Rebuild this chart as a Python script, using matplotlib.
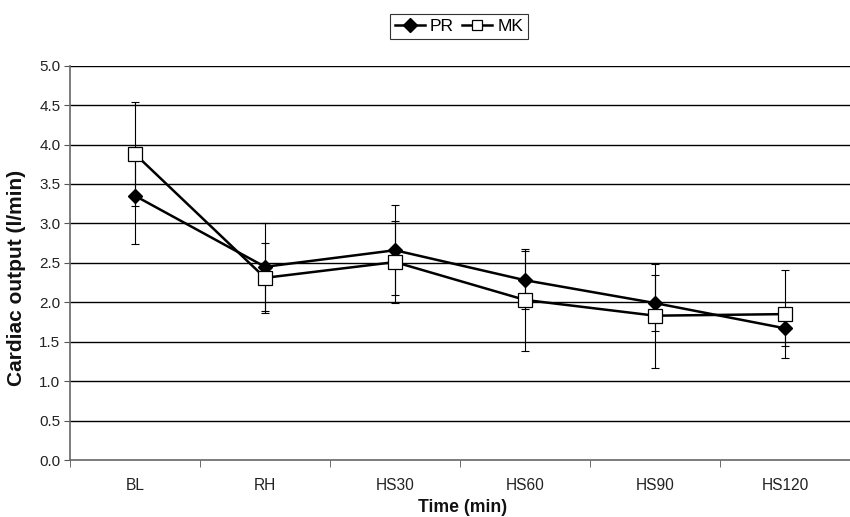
import matplotlib
matplotlib.use("Agg")
import matplotlib.pyplot as plt
import numpy as np

plt.rcParams['font.family'] = ['Liberation Sans', 'DejaVu Sans']

# time points
categories = ['BL', 'RH', 'HS30', 'HS60', 'HS90', 'HS120']

# cardiac output means and SD (l/min)
pr_mean = [3.35, 2.45, 2.66, 2.28, 1.99, 1.67]
pr_sd = [0.61, 0.56, 0.57, 0.37, 0.36, 0.23]
mk_mean = [3.88, 2.31, 2.51, 2.03, 1.83, 1.85]
mk_sd = [0.66, 0.44, 0.52, 0.65, 0.66, 0.56]

yticks = np.arange(0, 5.01, 0.5)

fig = plt.figure(figsize=(8.5, 5.17), dpi=100)
ax = fig.add_axes([70 / 850, 1 - 460 / 517, 780 / 850, (460 - 65.7) / 517])

x = np.arange(len(categories))

for yv in yticks[1:]:
    ax.axhline(yv, color='black', lw=1.0, zorder=1)

ax.errorbar(x, pr_mean, yerr=pr_sd, fmt='none', ecolor='black', elinewidth=0.8,
            capsize=3, capthick=0.8, zorder=2)
ax.errorbar(x, mk_mean, yerr=mk_sd, fmt='none', ecolor='black', elinewidth=0.8,
            capsize=3, capthick=0.8, zorder=2)

ax.plot(x, pr_mean, color='black', lw=1.8, marker='D', markersize=7.5,
        markerfacecolor='black', markeredgecolor='black', label='PR', zorder=3)
ax.plot(x, mk_mean, color='black', lw=1.8, marker='s', markersize=9.5,
        markerfacecolor='white', markeredgecolor='black', markeredgewidth=0.9,
        label='MK', zorder=4)

ax.set_xlim(-0.5, len(categories) - 0.5)
ax.set_ylim(0, 5.0)
ax.set_yticks(yticks)
ax.set_yticklabels([f"{v:.1f}" for v in yticks])
ax.set_xticks(x)
ax.set_xticklabels(categories)
ax.set_xticks(np.arange(-0.5, len(categories) - 0.4, 1.0), minor=True)
ax.tick_params(axis='x', which='major', length=0, pad=13, labelsize=11.2, colors='#222222')
ax.tick_params(axis='x', which='minor', length=5, direction='out', color='#555555')
ax.tick_params(axis='y', length=4, direction='out', pad=3, labelsize=11,
               color='#555555', labelcolor='#222222')

for s in ['top', 'right']:
    ax.spines[s].set_visible(False)
for s in ['left', 'bottom']:
    ax.spines[s].set_color('#666666')
    ax.spines[s].set_linewidth(1.2)

fig.text(17 / 850, 1 - 278 / 517, 'Cardiac output (l/min)', rotation=90,
         ha='center', va='center', fontsize=15, fontweight='bold', color='#111111')
fig.text(463 / 850, 1 - 507 / 517, 'Time (min)', ha='center', va='center',
         fontsize=12.7, fontweight='bold', color='#111111')

leg = ax.legend(loc='center', bbox_to_anchor=(459 / 850, 1 - 26.5 / 517),
                bbox_transform=fig.transFigure, ncol=2, frameon=True,
                fancybox=False, edgecolor='black', fontsize=12.5,
                handlelength=1.7, handletextpad=0.3, columnspacing=0.5,
                borderpad=0.3, borderaxespad=0)
leg.get_frame().set_linewidth(0.8)
for h in leg.legend_handles:
    h.set_markersize(7)

fig.savefig('out.png', dpi=100)
